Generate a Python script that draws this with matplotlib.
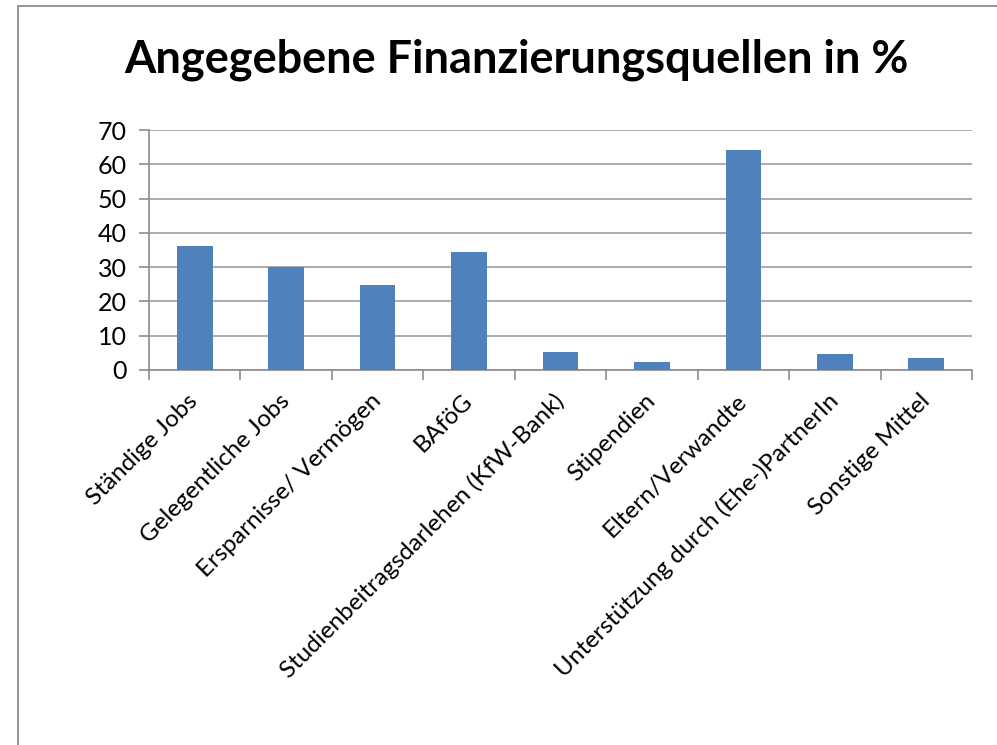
import matplotlib
matplotlib.use('Agg')
from matplotlib import pyplot as plt
from matplotlib.patches import Rectangle
import numpy as np

categories = ['Ständige Jobs', 'Gelegentliche Jobs', 'Ersparnisse/ Vermögen', 'BAföG',
              'Studienbeitragsdarlehen (KfW-Bank)', 'Stipendien', 'Eltern/Verwandte',
              'Unterstützung durch (Ehe-)PartnerIn', 'Sonstige Mittel']
values = [36.3, 29.9, 24.7, 34.4, 5.3, 2.3, 64.3, 4.6, 3.4]
yticks = [0, 10, 20, 30, 40, 50, 60, 70]

plt.rcParams['font.family'] = ['Lato', 'DejaVu Sans']

fig = plt.figure(figsize=(9.97, 7.45), dpi=100)
W, H = 997, 745
ax = fig.add_axes([149 / W, 1 - 370 / H, (972 - 149) / W, 240 / H])

x = np.arange(len(categories))
ax.bar(x, values, width=0.39, color='#4f81bd', zorder=3)

ax.set_xlim(-0.5, len(categories) - 0.5)
ax.set_ylim(0, 70)
ax.set_yticks(yticks)
ax.yaxis.grid(True, color='#a6a6a6', linewidth=1.3, zorder=0)
ax.tick_params(axis='y', labelsize=18, length=7, color='#8c8c8c', width=1.2, pad=9)

# category boundaries as tick marks, labels on centers
ax.set_xticks(np.arange(-0.5, len(categories)), minor=False)
ax.set_xticklabels([])
ax.tick_params(axis='x', which='major', length=7, color='#8c8c8c', width=1.2)
ax.set_xticks(x, minor=True)
ax.set_xticklabels(categories, minor=True, rotation=45, ha='right', va='center',
                   rotation_mode='anchor', fontsize=17.5)
ax.tick_params(axis='x', which='minor', length=0, pad=20)

for s in ['top', 'right']:
    ax.spines[s].set_visible(False)
ax.spines['left'].set_color('#8c8c8c')
ax.spines['bottom'].set_color('#8c8c8c')
ax.spines['left'].set_linewidth(1.2)
ax.spines['bottom'].set_linewidth(1.2)

fig.text(516 / W, 1 - 60 / H, 'Angegebene Finanzierungsquellen in %',
         ha='center', va='center', fontsize=32.5, fontweight='bold')

fig.patches.append(Rectangle((18 / W, -0.1), 2, 1.1 - 6 / H, transform=fig.transFigure,
                             fill=False, edgecolor='#8c8c8c', linewidth=1.3))

fig.savefig('out.png', dpi=100)
